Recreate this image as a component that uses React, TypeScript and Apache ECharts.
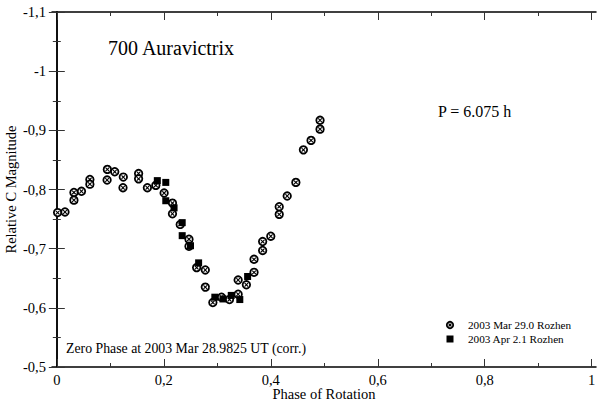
import React, { useEffect, useRef } from "react";
import * as echarts from "echarts";

// 2003 Mar 29.0 Rozhen (circles)
const phaseMar = [
  0.0015, 0.0153, 0.032, 0.032, 0.0461, 0.0618, 0.0618, 0.0945, 0.094, 0.1083,
  0.1243, 0.1237, 0.1529, 0.1529, 0.1693, 0.1851, 0.2006, 0.2162, 0.2162, 0.2307,
  0.2471, 0.2471, 0.2614, 0.2776, 0.2776, 0.2917, 0.3079, 0.3228, 0.339, 0.339,
  0.3544, 0.3687, 0.3687, 0.3848, 0.3848, 0.4, 0.4158, 0.4158, 0.4307, 0.4469,
  0.461, 0.4753, 0.4921, 0.4921,
];
const magMar = [
  -0.761, -0.762, -0.795, -0.782, -0.797, -0.817, -0.809, -0.834, -0.816, -0.83,
  -0.821, -0.803, -0.827, -0.818, -0.803, -0.807, -0.794, -0.777, -0.759, -0.741,
  -0.716, -0.704, -0.668, -0.664, -0.635, -0.609, -0.618, -0.614, -0.623, -0.647,
  -0.639, -0.66, -0.682, -0.697, -0.712, -0.721, -0.758, -0.771, -0.789, -0.812,
  -0.867, -0.883, -0.902, -0.917,
];
// 2003 Apr 2.1 Rozhen (squares)
const phaseApr = [
  0.1879, 0.2037, 0.2037, 0.2192, 0.2344, 0.2344, 0.2499, 0.2651, 0.2954, 0.3107,
  0.3261, 0.3421, 0.3567,
];
const magApr = [
  -0.815, -0.812, -0.781, -0.769, -0.744, -0.722, -0.705, -0.676, -0.618, -0.615,
  -0.621, -0.614, -0.653,
];

const xMajorTicks = [0, 0.2, 0.4, 0.6, 0.8, 1];
const xMinorTicks = [0.1, 0.3, 0.5, 0.7, 0.9];

const FONT = "Liberation Serif, Times New Roman, serif";

const fmt = (v: number) => String(Math.round(v * 10) / 10).replace(".", ",");

export default function App() {
  const ref = useRef<HTMLDivElement>(null);

  useEffect(() => {
    if (!ref.current) return;
    const chart = echarts.init(ref.current, null, { renderer: "svg" });
    const marData = phaseMar.map((p, i) => [p, magMar[i]]);
    const aprData = phaseApr.map((p, i) => [p, magApr[i]]);

    const xBase = {
      type: "value",
      min: -0.009,
      max: 1.008,
      splitLine: { show: false },
    };
    const lineStyle = { color: "#000", width: 1.5 };
    const tickStyle = { color: "#333", width: 1 };

    const yBase = {
      type: "value",
      min: -1.1,
      max: -0.5,
      interval: 0.1,
      inverse: true,
      splitLine: { show: false },
      minorSplitLine: { show: false },
    };

    chart.setOption({
      animation: false,
      backgroundColor: "#fff",
      grid: { left: 52, right: 4, top: 12, bottom: 33, containLabel: false, outerBoundsMode: "none" },
      xAxis: [
        {
          ...xBase,
          position: "bottom",
          axisLine: { show: true, lineStyle },
          axisTick: { show: true, inside: true, length: 8, lineStyle: tickStyle, customValues: xMajorTicks },
          axisLabel: {
            show: true,
            customValues: xMajorTicks,
            formatter: (v: number) => fmt(v),
            color: "#000",
            fontFamily: FONT,
            fontSize: 14.5,
            margin: 5,
          },
          name: "Phase of Rotation",
          nameLocation: "middle",
          nameGap: 19,
          nameMoveOverlap: false,
          nameTextStyle: { color: "#000", fontFamily: FONT, fontSize: 14.5 },
        },
        {
          ...xBase,
          position: "bottom",
          axisLine: { show: false },
          axisTick: { show: true, inside: true, length: 4, lineStyle: tickStyle, customValues: xMinorTicks },
          axisLabel: { show: false },
        },
        {
          ...xBase,
          position: "top",
          axisLine: { show: true, lineStyle },
          axisTick: { show: true, inside: true, length: 8, lineStyle: tickStyle, customValues: xMajorTicks },
          axisLabel: { show: false },
        },
        {
          ...xBase,
          position: "top",
          axisLine: { show: false },
          axisTick: { show: true, inside: true, length: 4, lineStyle: tickStyle, customValues: xMinorTicks },
          axisLabel: { show: false },
        },
      ],
      yAxis: [
        {
          ...yBase,
          position: "left",
          axisLine: { show: true, lineStyle },
          axisTick: { show: true, inside: true, length: 8, lineStyle: tickStyle },
          minorTick: { show: true, splitNumber: 2, length: 4, lineStyle: tickStyle },
          axisLabel: {
            formatter: (v: number) => fmt(v),
            color: "#000",
            fontFamily: FONT,
            fontSize: 14.5,
            margin: 6,
          },
          name: "Relative C Magnitude",
          nameLocation: "middle",
          nameRotate: 90,
          nameGap: 34,
          nameMoveOverlap: false,
          nameTextStyle: { color: "#000", fontFamily: FONT, fontSize: 14.5 },
        },
        {
          ...yBase,
          position: "right",
          axisLine: { show: true, lineStyle },
          axisTick: { show: true, inside: true, length: 8, lineStyle: tickStyle },
          minorTick: { show: true, splitNumber: 2, length: 4, lineStyle: tickStyle },
          axisLabel: { show: false },
        },
      ],
      series: [
        {
          type: "scatter",
          name: "2003 Mar 29.0 Rozhen",
          data: marData,
          symbol: "circle",
          symbolSize: 7.5,
          itemStyle: { color: "#fff", borderColor: "#000", borderWidth: 1.8, opacity: 1 },
          z: 2,
        },
        {
          type: "scatter",
          name: "hatch",
          data: marData,
          symbol: "path://M0,0L10,10M10,0L0,10",
          symbolSize: 3.6,
          itemStyle: { color: "none", borderColor: "#000", borderWidth: 1.1, opacity: 1 },
          silent: true,
          z: 3,
        },
        {
          type: "scatter",
          name: "2003 Apr 2.1 Rozhen",
          data: aprData,
          symbol: "rect",
          symbolSize: 7,
          itemStyle: { color: "#000", opacity: 1 },
          z: 4,
        },
      ],
      graphic: [
        {
          type: "text",
          x: 108,
          y: 48,
          style: { text: "700 Auravictrix", fontFamily: FONT, fontSize: 20, fill: "#000", verticalAlign: "middle" },
        },
        {
          type: "text",
          x: 438,
          y: 111,
          style: { text: "P = 6.075 h", fontFamily: FONT, fontSize: 16, fill: "#000", verticalAlign: "middle" },
        },
        {
          type: "text",
          x: 66,
          y: 348,
          style: {
            text: "Zero Phase at 2003 Mar 28.9825 UT (corr.)",
            fontFamily: FONT,
            fontSize: 13.8,
            fill: "#000",
            verticalAlign: "middle",
          },
        },
        {
          type: "circle",
          shape: { cx: 450, cy: 325, r: 3.2 },
          style: { fill: "#fff", stroke: "#000", lineWidth: 1.8 },
        },
        { type: "line", shape: { x1: 448.5, y1: 323.5, x2: 451.5, y2: 326.5 }, style: { stroke: "#000", lineWidth: 1.1 } },
        { type: "line", shape: { x1: 451.5, y1: 323.5, x2: 448.5, y2: 326.5 }, style: { stroke: "#000", lineWidth: 1.1 } },
        {
          type: "rect",
          shape: { x: 446.5, y: 335.5, width: 7, height: 7 },
          style: { fill: "#000" },
        },
        {
          type: "text",
          x: 468,
          y: 325,
          style: { text: "2003 Mar 29.0 Rozhen", fontFamily: FONT, fontSize: 11.2, fill: "#000", verticalAlign: "middle" },
        },
        {
          type: "text",
          x: 468,
          y: 339,
          style: { text: "2003 Apr 2.1 Rozhen", fontFamily: FONT, fontSize: 11.2, fill: "#000", verticalAlign: "middle" },
        },
      ],
    });
    return () => chart.dispose();
  }, []);

  return (
    <div
      ref={ref}
      style={{ position: "fixed", left: 0, top: 0, width: 600, height: 400, background: "#fff" }}
    />
  );
}
